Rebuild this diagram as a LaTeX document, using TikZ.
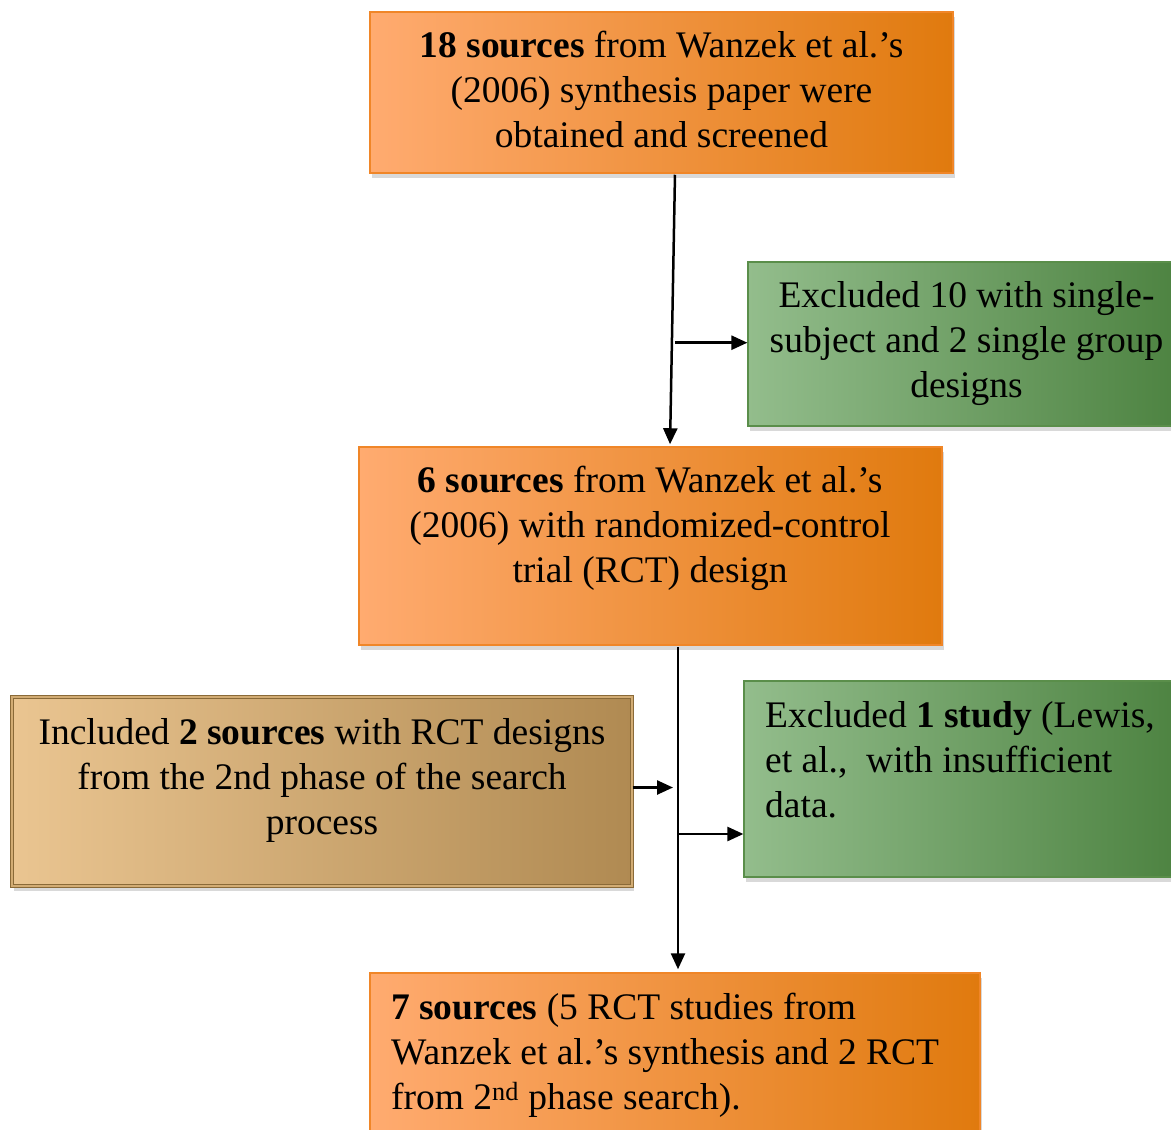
\documentclass[tikz,border=0pt]{standalone}
\usepackage{fontspec}
\setmainfont{Liberation Serif}
\usetikzlibrary{arrows.meta,shadows,calc}
\definecolor{orL}{HTML}{FFAB70}
\definecolor{orR}{HTML}{E07A0E}
\definecolor{orB}{HTML}{F08628}
\definecolor{grL}{HTML}{93BD8C}
\definecolor{grR}{HTML}{4C8240}
\definecolor{grB}{HTML}{5A8E4A}
\definecolor{tnL}{HTML}{EAC591}
\definecolor{tnR}{HTML}{B08A52}
\definecolor{tnB}{HTML}{8A6A38}
\definecolor{tnD}{HTML}{D2AC74}
\begin{document}
\begin{tikzpicture}[x=1pt,y=-1pt,
  shad/.style={drop shadow={opacity=0.3,shadow xshift=2pt,shadow yshift=-5pt}},
  orbox/.style={rectangle,inner sep=0pt,shad,left color=orL,right color=orR,draw=orB,line width=1.5pt},
  grbox/.style={rectangle,inner sep=0pt,shad,left color=grL,right color=grR,draw=grB,line width=1.2pt},
  tnbox/.style={rectangle,inner sep=0pt,shad,left color=tnL,right color=tnR,draw=tnB,line width=1pt,double=tnD,double distance=2.5pt},
  txt/.style={inner sep=0pt,font=\fontsize{37.5}{45}\selectfont},
  arr/.style={-{Triangle[length=16pt,width=14pt]},line width=2.5pt}]
\useasboundingbox (0,0) rectangle (1171,1130);

% boxes
\node[orbox,minimum width=583pt,minimum height=161pt] (b1) at (661.5,92.5) {};
\node[grbox,minimum width=437pt,minimum height=164pt] (b2) at (966.5,344) {};
\node[orbox,minimum width=583pt,minimum height=198pt] (b3) at (650.5,546) {};
\node[tnbox,minimum width=620pt,minimum height=189pt] (b4) at (322,791.5) {};
\node[grbox,minimum width=441pt,minimum height=196pt] (b5) at (964.5,779) {};
\node[orbox,minimum width=610pt,minimum height=177pt] (b6) at (675,1061.5) {};

% texts
\node[txt,align=center,anchor=north] (t1) at (661.5,31)
  {\textbf{18 sources} from Wanzek et al.’s\\(2006) synthesis paper were\\obtained and screened};
\node[txt,align=center,anchor=north] (t2) at (966.5,281)
  {Excluded 10 with single-\\subject and 2 single group\\designs};
\node[txt,align=center,anchor=north] (t3) at (650,466)
  {\textbf{6 sources} from Wanzek et al.’s\\(2006) with randomized-control\\trial (RCT) design};
\node[txt,align=center,anchor=north] (t4) at (322,718)
  {Included \textbf{2 sources} with RCT designs\\from the 2nd phase of the search\\process};
\node[txt,align=left,anchor=north west] (t5) at (765,701)
  {Excluded \textbf{1 study} (Lewis,\\et al.,\ \ with insufficient\\data.};
\node[txt,align=left,anchor=north west] (t6) at (391,993)
  {\textbf{7 sources} (5 RCT studies from\\Wanzek et al.’s synthesis and 2 RCT\\from 2\textsuperscript{nd} phase search).};

% connectors
\coordinate (s1) at ([xshift=13.5pt]b1.south);
\coordinate (e1) at ([xshift=19.5pt]b3.north);
\draw[arr,shorten <=1pt,shorten >=2pt] (s1) -- (e1);
\path (s1) -- (e1) coordinate[pos=0.62] (m1);
\draw[arr] ([xshift=3pt]m1) -- (m1 -| b2.west);

\coordinate (v1) at ([xshift=27.5pt]b3.south);
\coordinate (v2) at (v1 |- b6.north);
\draw[arr,shorten <=1pt,shorten >=3pt] (v1) -- (v2);
\coordinate (j1) at (v1 |- b4.east);
\draw[arr,shorten >=5pt] ([yshift=4pt]b4.east) -- ([yshift=4pt]j1);
\coordinate (j2) at ($(v1 |- b5.center)+(0,55)$);
\draw[arr] (j2) -- (j2 -| b5.west);
\end{tikzpicture}
\end{document}
